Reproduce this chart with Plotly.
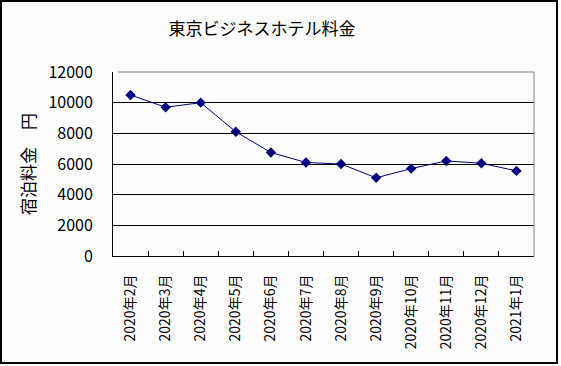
import plotly.graph_objects as go

categories = ["2020年2月", "2020年3月", "2020年4月", "2020年5月", "2020年6月", "2020年7月",
              "2020年8月", "2020年9月", "2020年10月", "2020年11月", "2020年12月", "2021年1月"]
prices = [10500, 9700, 10000, 8100, 6750, 6100, 6000, 5100, 5700, 6200, 6050, 5550]
y_ticks = [0, 2000, 4000, 6000, 8000, 10000, 12000]
y_tick_labels = ["0", "2000", "4000", "6000", "8000", "10000", "12000"]

FONT = "Noto Sans CJK JP"
W, H = 561, 366
L, R, T, B = 113, 27, 72, 110
pw, ph = W - L - R, H - T - B

def px_x(p):
    return (p - L) / pw

def px_y(p):
    return (H - B - p) / ph

fig = go.Figure()
fig.add_trace(go.Scatter(
    x=categories, y=prices, mode="lines+markers",
    line=dict(color="#000080", width=1),
    marker=dict(symbol="diamond", size=8, color="#000080"),
    showlegend=False, cliponaxis=False,
))

fig.update_layout(
    width=W, height=H,
    margin=dict(l=L, r=R, t=T, b=B, pad=0),
    paper_bgcolor="#FCFCFC", plot_bgcolor="#FCFCFC",
    font=dict(family=FONT, color="#000000"),
    title=dict(text="東京ビジネスホテル料金", x=262 / W, xanchor="center",
               y=1 - 29 / H, yanchor="middle", font=dict(size=17, family=FONT)),
    xaxis=dict(
        type="category", tickson="boundaries", ticks="inside", ticklen=5,
        tickcolor="#000000", showline=True, linecolor="#000000", linewidth=1,
        showgrid=False, tickangle=-90, tickfont=dict(size=14, family=FONT),
        ticklabelstandoff=12,
        range=[-0.5, len(categories) - 0.5],
    ),
    yaxis=dict(
        range=[0, 12000], tickvals=y_ticks, ticktext=y_tick_labels, ticks="inside", ticklen=5,
        tickcolor="#000000", showline=True, linecolor="#000000", linewidth=1,
        showgrid=True, gridcolor="#000000", gridwidth=1, zeroline=False,
        tickfont=dict(size=16, family=FONT), ticklabelstandoff=16,
        title=dict(text="宿泊料金　円", font=dict(size=17, family=FONT), standoff=8),
    ),
    shapes=[
        dict(type="line", xref="paper", yref="paper", x0=0.012, x1=1, y0=1, y1=1,
             line=dict(color="#808080", width=1), layer="above"),
        dict(type="line", xref="paper", yref="paper", x0=1, x1=1, y0=0, y1=1,
             line=dict(color="#808080", width=1), layer="above"),
        dict(type="rect", xref="paper", yref="paper",
             x0=px_x(1), x1=px_x(557), y0=px_y(363), y1=px_y(1),
             line=dict(color="#000000", width=2), layer="above"),
    ],
)

fig.write_html("out.html", config={"displayModeBar": False},
               post_script="document.body.style.margin='0';document.body.style.overflow='hidden';")
